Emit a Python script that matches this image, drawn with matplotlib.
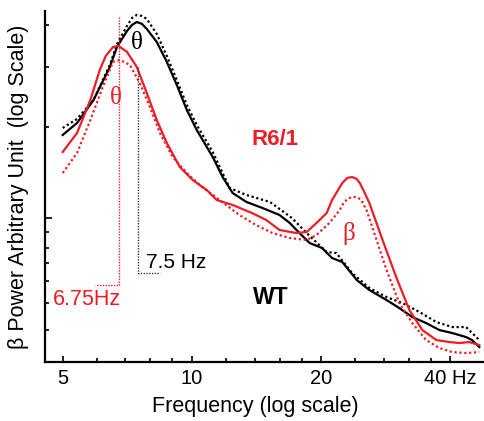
import numpy as np
import matplotlib
matplotlib.use('Agg')
import matplotlib.pyplot as plt
from matplotlib.ticker import FixedLocator, NullFormatter

plt.rcParams['font.family'] = ['Liberation Sans', 'DejaVu Sans']

RED = '#ee1c24'

# spectra (frequency in Hz, power in arbitrary units)
wt_f = [5.0, 5.4, 5.9, 6.44, 6.69, 7.06, 7.25, 7.44, 7.65, 7.85, 8.28, 8.74, 9.22,
        9.73, 10.26, 11.18, 11.79, 12.44, 13.4, 14.6, 16.0, 16.9, 17.8, 18.8, 20.1,
        21.2, 22.4, 24.2, 25.9, 28.4, 30.4, 32.6, 35.1, 37.7, 40.4, 43.5, 44.9, 46.7]
wt_p = [227, 239, 262, 295, 315, 331, 337, 340, 338, 333, 320, 300, 277,
        252, 232, 205, 185, 169, 160, 154, 147, 139, 129, 119, 114,
        104, 100, 82, 72, 62, 54, 45, 39, 32, 29, 25, 22, 15]

wt2_f = [5.0, 5.4, 5.9, 6.44, 6.69, 7.06, 7.25, 7.44, 7.65, 7.85, 8.28, 8.74, 9.22,
         9.73, 10.26, 11.18, 12.24, 13.4, 15.2, 17.1, 18.5, 20.6, 21.7, 23.6, 25.9,
         28.4, 30.9, 33.9, 37.1, 40.4, 43.5, 46.7]
wt2_p = [234, 243, 262, 297, 318, 336, 344, 347, 346, 343, 328, 306, 282,
         257, 237, 210, 174, 167, 160, 144, 129, 110, 109, 89, 74,
         65, 59, 50, 40, 35, 35, 22]

r6_f = [5.0, 5.4, 5.8, 6.1, 6.3, 6.55, 6.75, 7.06, 7.44, 7.85, 8.28, 8.74, 9.37,
        10.04, 10.82, 11.42, 12.44, 13.8, 14.9, 16.0, 17.5, 18.5, 19.5, 20.6, 21.2,
        22.4, 23.0, 23.6, 24.2, 24.6, 25.2, 25.9, 27.8, 29.9, 32.1, 34.4, 37.1, 39.8,
        41.9, 44.2, 46.7]
r6_p = [210, 229, 262, 292, 306, 315, 316, 310, 295, 269, 242, 219, 195,
        182, 172, 162, 157, 149, 142, 132, 129, 130, 139, 149, 162,
        179, 184, 185, 183, 179, 170, 159, 122, 85, 52, 32, 22, 20,
        19, 20, 17]

r62_f = [5.0, 5.4, 5.8, 6.2, 6.55, 6.8, 7.17, 7.56, 7.98, 8.42, 9.02, 9.73, 10.42,
         11.6, 12.9, 14.1, 15.4, 16.9, 18.5, 19.5, 20.9, 22.1, 22.4, 23.0, 23.6,
         24.2, 24.8, 25.5, 26.3, 28.4, 30.4, 32.6, 35.1, 37.7, 40.4, 43.5, 46.7]
r62_p = [189, 209, 242, 275, 300, 302, 297, 279, 255, 229, 205, 189, 177,
         162, 147, 137, 129, 124, 122, 127, 139, 152, 157, 163, 165,
         165, 162, 152, 135, 92, 59, 39, 22, 14, 10, 9, 10]

theta_r6 = 6.75
theta_wt = 7.5
x_major = [5, 10, 20, 40]
x_labels = ['5', '10', '20', '40 Hz']
x_minor = [6, 7, 8, 9, 12, 14, 16, 18, 24, 28, 32, 36]
y_major = [144]
y_minor = [337, 295, 235, 130, 114, 99, 81, 59, 32]

fig = plt.figure(figsize=(4.85, 4.21), dpi=100)
ax = fig.add_axes([0.093, 0.14, 0.905, 0.834])

ax.plot(wt2_f, wt2_p, color='black', lw=1.6, ls=(0, (1, 1.2)))
ax.plot(wt_f, wt_p, color='black', lw=1.6, solid_joinstyle='round')
ax.plot(r62_f, r62_p, color=RED, lw=1.6, ls=(0, (1, 1.2)))
ax.plot(r6_f, r6_p, color=RED, lw=1.6, solid_joinstyle='round')

# peak markers
ax.plot([theta_r6, theta_r6, 5.94], [345, 77, 77], color=RED, lw=1.0, ls=(0, (1, 1)))
ax.plot([theta_wt, theta_wt, 8.42], [295, 89, 89], color='#333333', lw=1.0, ls=(0, (1, 1)))

ax.text(6.65, 264, '\u03b8', color=RED, fontsize=18, family='Liberation Serif',
        ha='center', va='center')
ax.text(7.44, 319, '\u03b8', color='black', fontsize=18, family='Liberation Serif',
        ha='center', va='center')
ax.text(23.2, 129, '\u03b2', color=RED, fontsize=18, family='Liberation Serif',
        ha='center', va='center')
ax.text(15.6, 222, 'R6/1', color=RED, fontsize=16, fontweight='bold', ha='center', va='center')
ax.text(15.3, 65, 'WT', color='black', fontsize=16.5, fontweight='bold', ha='center', va='center')
ax.text(7.81, 100, '7.5 Hz', color='black', fontsize=15, ha='left', va='center')
ax.text(4.74, 63, '6.75Hz', color=RED, fontsize=15.5, ha='left', va='center')

ax.set_xscale('log')
ax.set_xlim(4.55, 47.9)
ax.set_ylim(0, 351)

ax.xaxis.set_major_locator(FixedLocator(x_major))
ax.set_xticklabels(x_labels)
ax.xaxis.set_minor_locator(FixedLocator(x_minor))
ax.xaxis.set_minor_formatter(NullFormatter())
ax.yaxis.set_major_locator(FixedLocator(y_major))
ax.yaxis.set_minor_locator(FixedLocator(y_minor))
ax.set_yticklabels([])

ax.tick_params(which='both', direction='in', top=False, right=False, width=1.2)
ax.tick_params(axis='x', which='major', length=4, labelsize=14.5, pad=5)
ax.tick_params(axis='x', which='minor', length=3)
ax.tick_params(axis='y', which='major', length=5)
ax.tick_params(axis='y', which='minor', length=3)

for s in ['top', 'right']:
    ax.spines[s].set_visible(False)
for s in ['left', 'bottom']:
    ax.spines[s].set_linewidth(1.6)

ax.set_xlabel('Frequency (log scale)', fontsize=15.5)
ax.xaxis.set_label_coords(0.48, -0.097)
ax.set_ylabel('\u03b2 Power Arbitrary Unit  (log Scale)', fontsize=15.5)
ax.yaxis.set_label_coords(-0.037, 0.5)

plt.savefig('out.png', dpi=100)
